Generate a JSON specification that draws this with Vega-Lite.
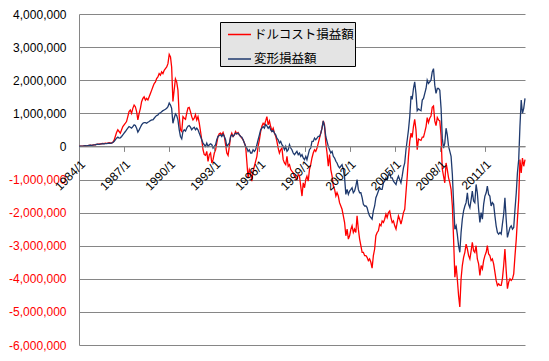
{
"$schema":"https://vega.github.io/schema/vega-lite/v6.json",
"width":446,"height":331,
"autosize":{"type":"none"},
"padding":{"left":79,"top":14,"right":24,"bottom":16},
"background":"#ffffff",
"config":{"view":{"stroke":null}},
"data":{"values":[
{"d":"1984-01","r":0,"b":0},{"d":"1984-02","r":5000,"b":5000},{"d":"1984-03","r":10000,"b":10000},{"d":"1984-04","r":8000,"b":8000},{"d":"1984-05","r":15000,"b":15000},{"d":"1984-06","r":20000,"b":20000},{"d":"1984-07","r":18000,"b":18000},{"d":"1984-08","r":25000,"b":25000},{"d":"1984-09","r":30000,"b":30000},{"d":"1984-10","r":35000,"b":35000},{"d":"1984-11","r":32000,"b":32000},{"d":"1984-12","r":40000,"b":40000},
{"d":"1985-01","r":45000,"b":45000},{"d":"1985-02","r":50000,"b":50000},{"d":"1985-03","r":60000,"b":58000},{"d":"1985-04","r":70000,"b":65000},{"d":"1985-05","r":65000,"b":62000},{"d":"1985-06","r":75000,"b":70000},{"d":"1985-07","r":80000,"b":75000},{"d":"1985-08","r":90000,"b":80000},{"d":"1985-09","r":85000,"b":78000},{"d":"1985-10","r":95000,"b":85000},{"d":"1985-11","r":90000,"b":82000},{"d":"1985-12","r":100000,"b":90000},
{"d":"1986-01","r":110000,"b":95000},{"d":"1986-02","r":105000,"b":92000},{"d":"1986-03","r":100000,"b":100000},{"d":"1986-04","r":120000,"b":120000},{"d":"1986-05","r":180000,"b":150000},{"d":"1986-06","r":300000,"b":200000},{"d":"1986-07","r":420000,"b":250000},{"d":"1986-08","r":500000,"b":280000},{"d":"1986-09","r":450000,"b":250000},{"d":"1986-10","r":400000,"b":260000},{"d":"1986-11","r":500000,"b":300000},{"d":"1986-12","r":600000,"b":350000},
{"d":"1987-01","r":650000,"b":400000},{"d":"1987-02","r":700000,"b":450000},{"d":"1987-03","r":750000,"b":500000},{"d":"1987-04","r":900000,"b":550000},{"d":"1987-05","r":1050000,"b":600000},{"d":"1987-06","r":1100000,"b":580000},{"d":"1987-07","r":1000000,"b":550000},{"d":"1987-08","r":1150000,"b":600000},{"d":"1987-09","r":1250000,"b":650000},{"d":"1987-10","r":1200000,"b":630000},{"d":"1987-11","r":1050000,"b":550000},{"d":"1987-12","r":800000,"b":430000},
{"d":"1988-01","r":1000000,"b":500000},{"d":"1988-02","r":1150000,"b":580000},{"d":"1988-03","r":1350000,"b":650000},{"d":"1988-04","r":1450000,"b":700000},{"d":"1988-05","r":1500000,"b":720000},{"d":"1988-06","r":1400000,"b":720000},{"d":"1988-07","r":1450000,"b":700000},{"d":"1988-08","r":1400000,"b":730000},{"d":"1988-09","r":1500000,"b":750000},{"d":"1988-10","r":1600000,"b":780000},{"d":"1988-11","r":1700000,"b":800000},{"d":"1988-12","r":1800000,"b":800000},
{"d":"1989-01","r":1900000,"b":850000},{"d":"1989-02","r":1950000,"b":900000},{"d":"1989-03","r":2050000,"b":930000},{"d":"1989-04","r":2100000,"b":950000},{"d":"1989-05","r":2200000,"b":1000000},{"d":"1989-06","r":2150000,"b":1010000},{"d":"1989-07","r":2250000,"b":1050000},{"d":"1989-08","r":2200000,"b":1080000},{"d":"1989-09","r":2300000,"b":1100000},{"d":"1989-10","r":2350000,"b":1120000},{"d":"1989-11","r":2400000,"b":1150000},{"d":"1989-12","r":2500000,"b":1200000},
{"d":"1990-01","r":2780000,"b":1310000},{"d":"1990-02","r":2700000,"b":1250000},{"d":"1990-03","r":2400000,"b":1150000},{"d":"1990-04","r":1360000,"b":700000},{"d":"1990-05","r":1700000,"b":850000},{"d":"1990-06","r":2040000,"b":980000},{"d":"1990-07","r":1950000,"b":930000},{"d":"1990-08","r":1700000,"b":800000},{"d":"1990-09","r":910000,"b":500000},{"d":"1990-10","r":500000,"b":300000},{"d":"1990-11","r":450000,"b":230000},{"d":"1990-12","r":900000,"b":450000},
{"d":"1991-01","r":850000,"b":500000},{"d":"1991-02","r":820000,"b":460000},{"d":"1991-03","r":1000000,"b":550000},{"d":"1991-04","r":1160000,"b":610000},{"d":"1991-05","r":1180000,"b":630000},{"d":"1991-06","r":1050000,"b":580000},{"d":"1991-07","r":900000,"b":500000},{"d":"1991-08","r":800000,"b":550000},{"d":"1991-09","r":850000,"b":580000},{"d":"1991-10","r":960000,"b":500000},{"d":"1991-11","r":800000,"b":550000},{"d":"1991-12","r":900000,"b":500000},
{"d":"1992-01","r":700000,"b":400000},{"d":"1992-02","r":450000,"b":300000},{"d":"1992-03","r":200000,"b":200000},{"d":"1992-04","r":-100000,"b":100000},{"d":"1992-05","r":-250000,"b":50000},{"d":"1992-06","r":-270000,"b":0},{"d":"1992-07","r":-150000,"b":100000},{"d":"1992-08","r":-450000,"b":0},{"d":"1992-09","r":-250000,"b":50000},{"d":"1992-10","r":-200000,"b":80000},{"d":"1992-11","r":-500000,"b":50000},{"d":"1992-12","r":-400000,"b":-50000},
{"d":"1993-01","r":-200000,"b":0},{"d":"1993-02","r":-100000,"b":50000},{"d":"1993-03","r":100000,"b":200000},{"d":"1993-04","r":300000,"b":300000},{"d":"1993-05","r":380000,"b":330000},{"d":"1993-06","r":400000,"b":350000},{"d":"1993-07","r":350000,"b":300000},{"d":"1993-08","r":420000,"b":370000},{"d":"1993-09","r":300000,"b":300000},{"d":"1993-10","r":50000,"b":200000},{"d":"1993-11","r":-200000,"b":0},{"d":"1993-12","r":-270000,"b":50000},
{"d":"1994-01","r":0,"b":100000},{"d":"1994-02","r":300000,"b":300000},{"d":"1994-03","r":400000,"b":350000},{"d":"1994-04","r":300000,"b":300000},{"d":"1994-05","r":350000,"b":350000},{"d":"1994-06","r":450000,"b":400000},{"d":"1994-07","r":380000,"b":380000},{"d":"1994-08","r":420000,"b":400000},{"d":"1994-09","r":350000,"b":350000},{"d":"1994-10","r":300000,"b":300000},{"d":"1994-11","r":250000,"b":280000},{"d":"1994-12","r":200000,"b":200000},
{"d":"1995-01","r":100000,"b":100000},{"d":"1995-02","r":0,"b":0},{"d":"1995-03","r":-450000,"b":-50000},{"d":"1995-04","r":-950000,"b":-150000},{"d":"1995-05","r":-700000,"b":-100000},{"d":"1995-06","r":-800000,"b":-200000},{"d":"1995-07","r":-1050000,"b":-200000},{"d":"1995-08","r":-750000,"b":-100000},{"d":"1995-09","r":-600000,"b":-150000},{"d":"1995-10","r":-450000,"b":-100000},{"d":"1995-11","r":-300000,"b":50000},{"d":"1995-12","r":0,"b":200000},
{"d":"1996-01","r":200000,"b":350000},{"d":"1996-02","r":450000,"b":500000},{"d":"1996-03","r":610000,"b":550000},{"d":"1996-04","r":700000,"b":600000},{"d":"1996-05","r":650000,"b":550000},{"d":"1996-06","r":770000,"b":660000},{"d":"1996-07","r":900000,"b":620000},{"d":"1996-08","r":650000,"b":550000},{"d":"1996-09","r":770000,"b":600000},{"d":"1996-10","r":600000,"b":500000},{"d":"1996-11","r":470000,"b":450000},{"d":"1996-12","r":550000,"b":480000},
{"d":"1997-01","r":400000,"b":400000},{"d":"1997-02","r":300000,"b":350000},{"d":"1997-03","r":150000,"b":250000},{"d":"1997-04","r":-50000,"b":200000},{"d":"1997-05","r":-200000,"b":100000},{"d":"1997-06","r":-100000,"b":150000},{"d":"1997-07","r":-50000,"b":50000},{"d":"1997-08","r":-400000,"b":0},{"d":"1997-09","r":-500000,"b":-100000},{"d":"1997-10","r":-550000,"b":0},{"d":"1997-11","r":-300000,"b":-150000},{"d":"1997-12","r":-600000,"b":-100000},
{"d":"1998-01","r":-550000,"b":50000},{"d":"1998-02","r":-700000,"b":-50000},{"d":"1998-03","r":-750000,"b":-100000},{"d":"1998-04","r":-800000,"b":-200000},{"d":"1998-05","r":-900000,"b":-250000},{"d":"1998-06","r":-950000,"b":-200000},{"d":"1998-07","r":-1000000,"b":-150000},{"d":"1998-08","r":-850000,"b":-250000},{"d":"1998-09","r":-900000,"b":-200000},{"d":"1998-10","r":-1200000,"b":-300000},{"d":"1998-11","r":-1500000,"b":-250000},{"d":"1998-12","r":-1100000,"b":-350000},
{"d":"1999-01","r":-1250000,"b":-400000},{"d":"1999-02","r":-1000000,"b":-300000},{"d":"1999-03","r":-900000,"b":-400000},{"d":"1999-04","r":-1050000,"b":-250000},{"d":"1999-05","r":-700000,"b":-100000},{"d":"1999-06","r":-550000,"b":-50000},{"d":"1999-07","r":-350000,"b":150000},{"d":"1999-08","r":-200000,"b":150000},{"d":"1999-09","r":-100000,"b":250000},{"d":"1999-10","r":-150000,"b":200000},{"d":"1999-11","r":-50000,"b":250000},{"d":"1999-12","r":100000,"b":300000},
{"d":"2000-01","r":250000,"b":300000},{"d":"2000-02","r":400000,"b":400000},{"d":"2000-03","r":550000,"b":550000},{"d":"2000-04","r":770000,"b":770000},{"d":"2000-05","r":650000,"b":600000},{"d":"2000-06","r":100000,"b":300000},{"d":"2000-07","r":-200000,"b":150000},{"d":"2000-08","r":-600000,"b":0},{"d":"2000-09","r":-250000,"b":-100000},{"d":"2000-10","r":-700000,"b":-200000},{"d":"2000-11","r":-900000,"b":-150000},{"d":"2000-12","r":-1200000,"b":-300000},
{"d":"2001-01","r":-1300000,"b":-350000},{"d":"2001-02","r":-1500000,"b":-450000},{"d":"2001-03","r":-1400000,"b":-500000},{"d":"2001-04","r":-1500000,"b":-600000},{"d":"2001-05","r":-1700000,"b":-650000},{"d":"2001-06","r":-1800000,"b":-600000},{"d":"2001-07","r":-1900000,"b":-550000},{"d":"2001-08","r":-2100000,"b":-700000},{"d":"2001-09","r":-2300000,"b":-950000},{"d":"2001-10","r":-2700000,"b":-1450000},{"d":"2001-11","r":-2500000,"b":-1300000},{"d":"2001-12","r":-2800000,"b":-1450000},
{"d":"2002-01","r":-2700000,"b":-1350000},{"d":"2002-02","r":-2500000,"b":-1300000},{"d":"2002-03","r":-2400000,"b":-1250000},{"d":"2002-04","r":-2600000,"b":-1400000},{"d":"2002-05","r":-2500000,"b":-1350000},{"d":"2002-06","r":-2600000,"b":-1200000},{"d":"2002-07","r":-2100000,"b":-1000000},{"d":"2002-08","r":-2500000,"b":-1300000},{"d":"2002-09","r":-2800000,"b":-1400000},{"d":"2002-10","r":-3000000,"b":-1400000},{"d":"2002-11","r":-3200000,"b":-1550000},{"d":"2002-12","r":-3200000,"b":-1750000},
{"d":"2003-01","r":-3300000,"b":-1800000},{"d":"2003-02","r":-3300000,"b":-1800000},{"d":"2003-03","r":-3350000,"b":-1850000},{"d":"2003-04","r":-3450000,"b":-2000000},{"d":"2003-05","r":-3400000,"b":-2100000},{"d":"2003-06","r":-3500000,"b":-2150000},{"d":"2003-07","r":-3680000,"b":-2200000},{"d":"2003-08","r":-3300000,"b":-1950000},{"d":"2003-09","r":-3100000,"b":-1800000},{"d":"2003-10","r":-2700000,"b":-1550000},{"d":"2003-11","r":-2600000,"b":-1450000},{"d":"2003-12","r":-2550000,"b":-1350000},
{"d":"2004-01","r":-2350000,"b":-1250000},{"d":"2004-02","r":-2400000,"b":-1300000},{"d":"2004-03","r":-2250000,"b":-1300000},{"d":"2004-04","r":-2300000,"b":-1100000},{"d":"2004-05","r":-2200000,"b":-1050000},{"d":"2004-06","r":-2050000,"b":-950000},{"d":"2004-07","r":-2150000,"b":-1000000},{"d":"2004-08","r":-2000000,"b":-850000},{"d":"2004-09","r":-1950000,"b":-800000},{"d":"2004-10","r":-2150000,"b":-950000},{"d":"2004-11","r":-2300000,"b":-950000},{"d":"2004-12","r":-2250000,"b":-1050000},
{"d":"2005-01","r":-2400000,"b":-1100000},{"d":"2005-02","r":-2500000,"b":-1150000},{"d":"2005-03","r":-2300000,"b":-1000000},{"d":"2005-04","r":-2100000,"b":-900000},{"d":"2005-05","r":-2200000,"b":-1000000},{"d":"2005-06","r":-2350000,"b":-1100000},{"d":"2005-07","r":-2200000,"b":-900000},{"d":"2005-08","r":-2000000,"b":-650000},{"d":"2005-09","r":-1900000,"b":-500000},{"d":"2005-10","r":-1400000,"b":-100000},{"d":"2005-11","r":-900000,"b":200000},{"d":"2005-12","r":-300000,"b":500000},
{"d":"2006-01","r":150000,"b":900000},{"d":"2006-02","r":400000,"b":1520000},{"d":"2006-03","r":270000,"b":1420000},{"d":"2006-04","r":600000,"b":1750000},{"d":"2006-05","r":820000,"b":1950000},{"d":"2006-06","r":500000,"b":1600000},{"d":"2006-07","r":-100000,"b":1080000},{"d":"2006-08","r":220000,"b":1130000},{"d":"2006-09","r":200000,"b":1100000},{"d":"2006-10","r":180000,"b":1080000},{"d":"2006-11","r":280000,"b":1400000},{"d":"2006-12","r":280000,"b":1450000},
{"d":"2007-01","r":430000,"b":1600000},{"d":"2007-02","r":600000,"b":1750000},{"d":"2007-03","r":870000,"b":2000000},{"d":"2007-04","r":720000,"b":1900000},{"d":"2007-05","r":850000,"b":1950000},{"d":"2007-06","r":920000,"b":2000000},{"d":"2007-07","r":1180000,"b":2250000},{"d":"2007-08","r":1220000,"b":2350000},{"d":"2007-09","r":770000,"b":1850000},{"d":"2007-10","r":630000,"b":1600000},{"d":"2007-11","r":870000,"b":1750000},{"d":"2007-12","r":800000,"b":1750000},
{"d":"2008-01","r":770000,"b":1700000},{"d":"2008-02","r":330000,"b":1150000},{"d":"2008-03","r":-680000,"b":250000},{"d":"2008-04","r":-900000,"b":-50000},{"d":"2008-05","r":-1100000,"b":100000},{"d":"2008-06","r":-500000,"b":550000},{"d":"2008-07","r":-700000,"b":350000},{"d":"2008-08","r":-950000,"b":0},{"d":"2008-09","r":-1100000,"b":-150000},{"d":"2008-10","r":-1300000,"b":-300000},{"d":"2008-11","r":-1800000,"b":-850000},{"d":"2008-12","r":-2800000,"b":-1700000},
{"d":"2009-01","r":-3950000,"b":-2500000},{"d":"2009-02","r":-3600000,"b":-2400000},{"d":"2009-03","r":-4000000,"b":-2650000},{"d":"2009-04","r":-4500000,"b":-3000000},{"d":"2009-05","r":-4850000,"b":-3200000},{"d":"2009-06","r":-4000000,"b":-2600000},{"d":"2009-07","r":-3600000,"b":-2200000},{"d":"2009-08","r":-3350000,"b":-1950000},{"d":"2009-09","r":-3200000,"b":-1800000},{"d":"2009-10","r":-2950000,"b":-1700000},{"d":"2009-11","r":-3100000,"b":-1400000},{"d":"2009-12","r":-3300000,"b":-1750000},
{"d":"2010-01","r":-3400000,"b":-1850000},{"d":"2010-02","r":-3150000,"b":-1600000},{"d":"2010-03","r":-2900000,"b":-1350000},{"d":"2010-04","r":-3150000,"b":-1650000},{"d":"2010-05","r":-3200000,"b":-1700000},{"d":"2010-06","r":-3000000,"b":-1150000},{"d":"2010-07","r":-3400000,"b":-1400000},{"d":"2010-08","r":-3550000,"b":-1900000},{"d":"2010-09","r":-3900000,"b":-2300000},{"d":"2010-10","r":-3600000,"b":-2000000},{"d":"2010-11","r":-3700000,"b":-2200000},{"d":"2010-12","r":-3450000,"b":-1750000},
{"d":"2011-01","r":-3300000,"b":-1500000},{"d":"2011-02","r":-3200000,"b":-1400000},{"d":"2011-03","r":-3000000,"b":-1200000},{"d":"2011-04","r":-3250000,"b":-1450000},{"d":"2011-05","r":-3300000,"b":-1500000},{"d":"2011-06","r":-3450000,"b":-1800000},{"d":"2011-07","r":-3400000,"b":-1700000},{"d":"2011-08","r":-3550000,"b":-1750000},{"d":"2011-09","r":-3800000,"b":-2100000},{"d":"2011-10","r":-4050000,"b":-2400000},{"d":"2011-11","r":-4200000,"b":-2600000},{"d":"2011-12","r":-4150000,"b":-2650000},
{"d":"2012-01","r":-4200000,"b":-2600000},{"d":"2012-02","r":-4200000,"b":-2650000},{"d":"2012-03","r":-4000000,"b":-2350000},{"d":"2012-04","r":-3600000,"b":-2050000},{"d":"2012-05","r":-3100000,"b":-1550000},{"d":"2012-06","r":-3750000,"b":-2200000},{"d":"2012-07","r":-4300000,"b":-2750000},{"d":"2012-08","r":-4100000,"b":-2600000},{"d":"2012-09","r":-4000000,"b":-2450000},{"d":"2012-10","r":-4050000,"b":-2400000},{"d":"2012-11","r":-4000000,"b":-2500000},{"d":"2012-12","r":-3850000,"b":-2450000},
{"d":"2013-01","r":-3300000,"b":-1900000},{"d":"2013-02","r":-2800000,"b":-1400000},{"d":"2013-03","r":-2200000,"b":-800000},{"d":"2013-04","r":-1600000,"b":-400000},{"d":"2013-05","r":-400000,"b":600000},{"d":"2013-06","r":-800000,"b":1400000},{"d":"2013-07","r":-350000,"b":1000000},{"d":"2013-08","r":-600000,"b":1150000},{"d":"2013-09","r":-400000,"b":1450000}
]},
"transform":[{"fold":["r","b"],"as":["k","v"]}],
"mark":{"type":"line","strokeWidth":1.3},
"encoding":{
"x":{"field":"d","type":"temporal",
"scale":{"type":"utc","domain":[{"year":1984,"month":1,"date":1,"utc":true},{"year":2013,"month":9,"date":1,"utc":true}]},
"axis":{"orient":"bottom","offset":-198.6,"title":null,"grid":false,"format":"%Y/%-m",
"values":[{"year":1984,"month":1,"date":1,"utc":true},{"year":1987,"month":1,"date":1,"utc":true},{"year":1990,"month":1,"date":1,"utc":true},{"year":1993,"month":1,"date":1,"utc":true},{"year":1996,"month":1,"date":1,"utc":true},{"year":1999,"month":1,"date":1,"utc":true},{"year":2002,"month":1,"date":1,"utc":true},{"year":2005,"month":1,"date":1,"utc":true},{"year":2008,"month":1,"date":1,"utc":true},{"year":2011,"month":1,"date":1,"utc":true}],
"labelAngle":-45,"labelAlign":"right","labelBaseline":"top","labelPadding":7,"labelFont":"Liberation Sans","labelFontSize":12,"labelColor":"#000000","labelOverlap":false,"labelBound":false,"labelFlush":false,
"domainColor":"#868686","tickColor":"#868686","tickSize":5,"zindex":1}},
"y":{"field":"v","type":"quantitative",
"scale":{"domain":[-6000000,4000000],"nice":false,"zero":false},
"axis":{"title":null,"values":[-6000000,-5000000,-4000000,-3000000,-2000000,-1000000,0,1000000,2000000,3000000,4000000],"format":",d",
"labelExpr":"replace(datum.label,'−','-')","ticks":false,"labelPadding":13,"labelFont":"Liberation Sans","labelFontSize":12,
"labelColor":{"condition":{"test":"datum.value < 0","value":"#ff0000"},"value":"#000000"},
"grid":true,"gridColor":"#868686","gridWidth":1,"domainColor":"#868686"}},
"color":{"field":"k","type":"nominal",
"scale":{"domain":["r","b"],"range":["#ff0000","#1f3a6e"]},
"legend":{"orient":"none","legendX":141,"legendY":8,"title":null,"symbolType":"stroke","symbolSize":529,"symbolStrokeWidth":1.5,"symbolOffset":7,
"labelFont":"Noto Sans CJK JP","labelFontSize":12.5,"labelColor":"#000000","labelLimit":300,"labelOffset":2,"padding":0,"rowPadding":5.5,
"strokeColor":"#000000","fillColor":"#e4e4e4",
"labelExpr":"datum.value == 'r' ? 'ドルコスト損益額' : '変形損益額'"}}
}
}
